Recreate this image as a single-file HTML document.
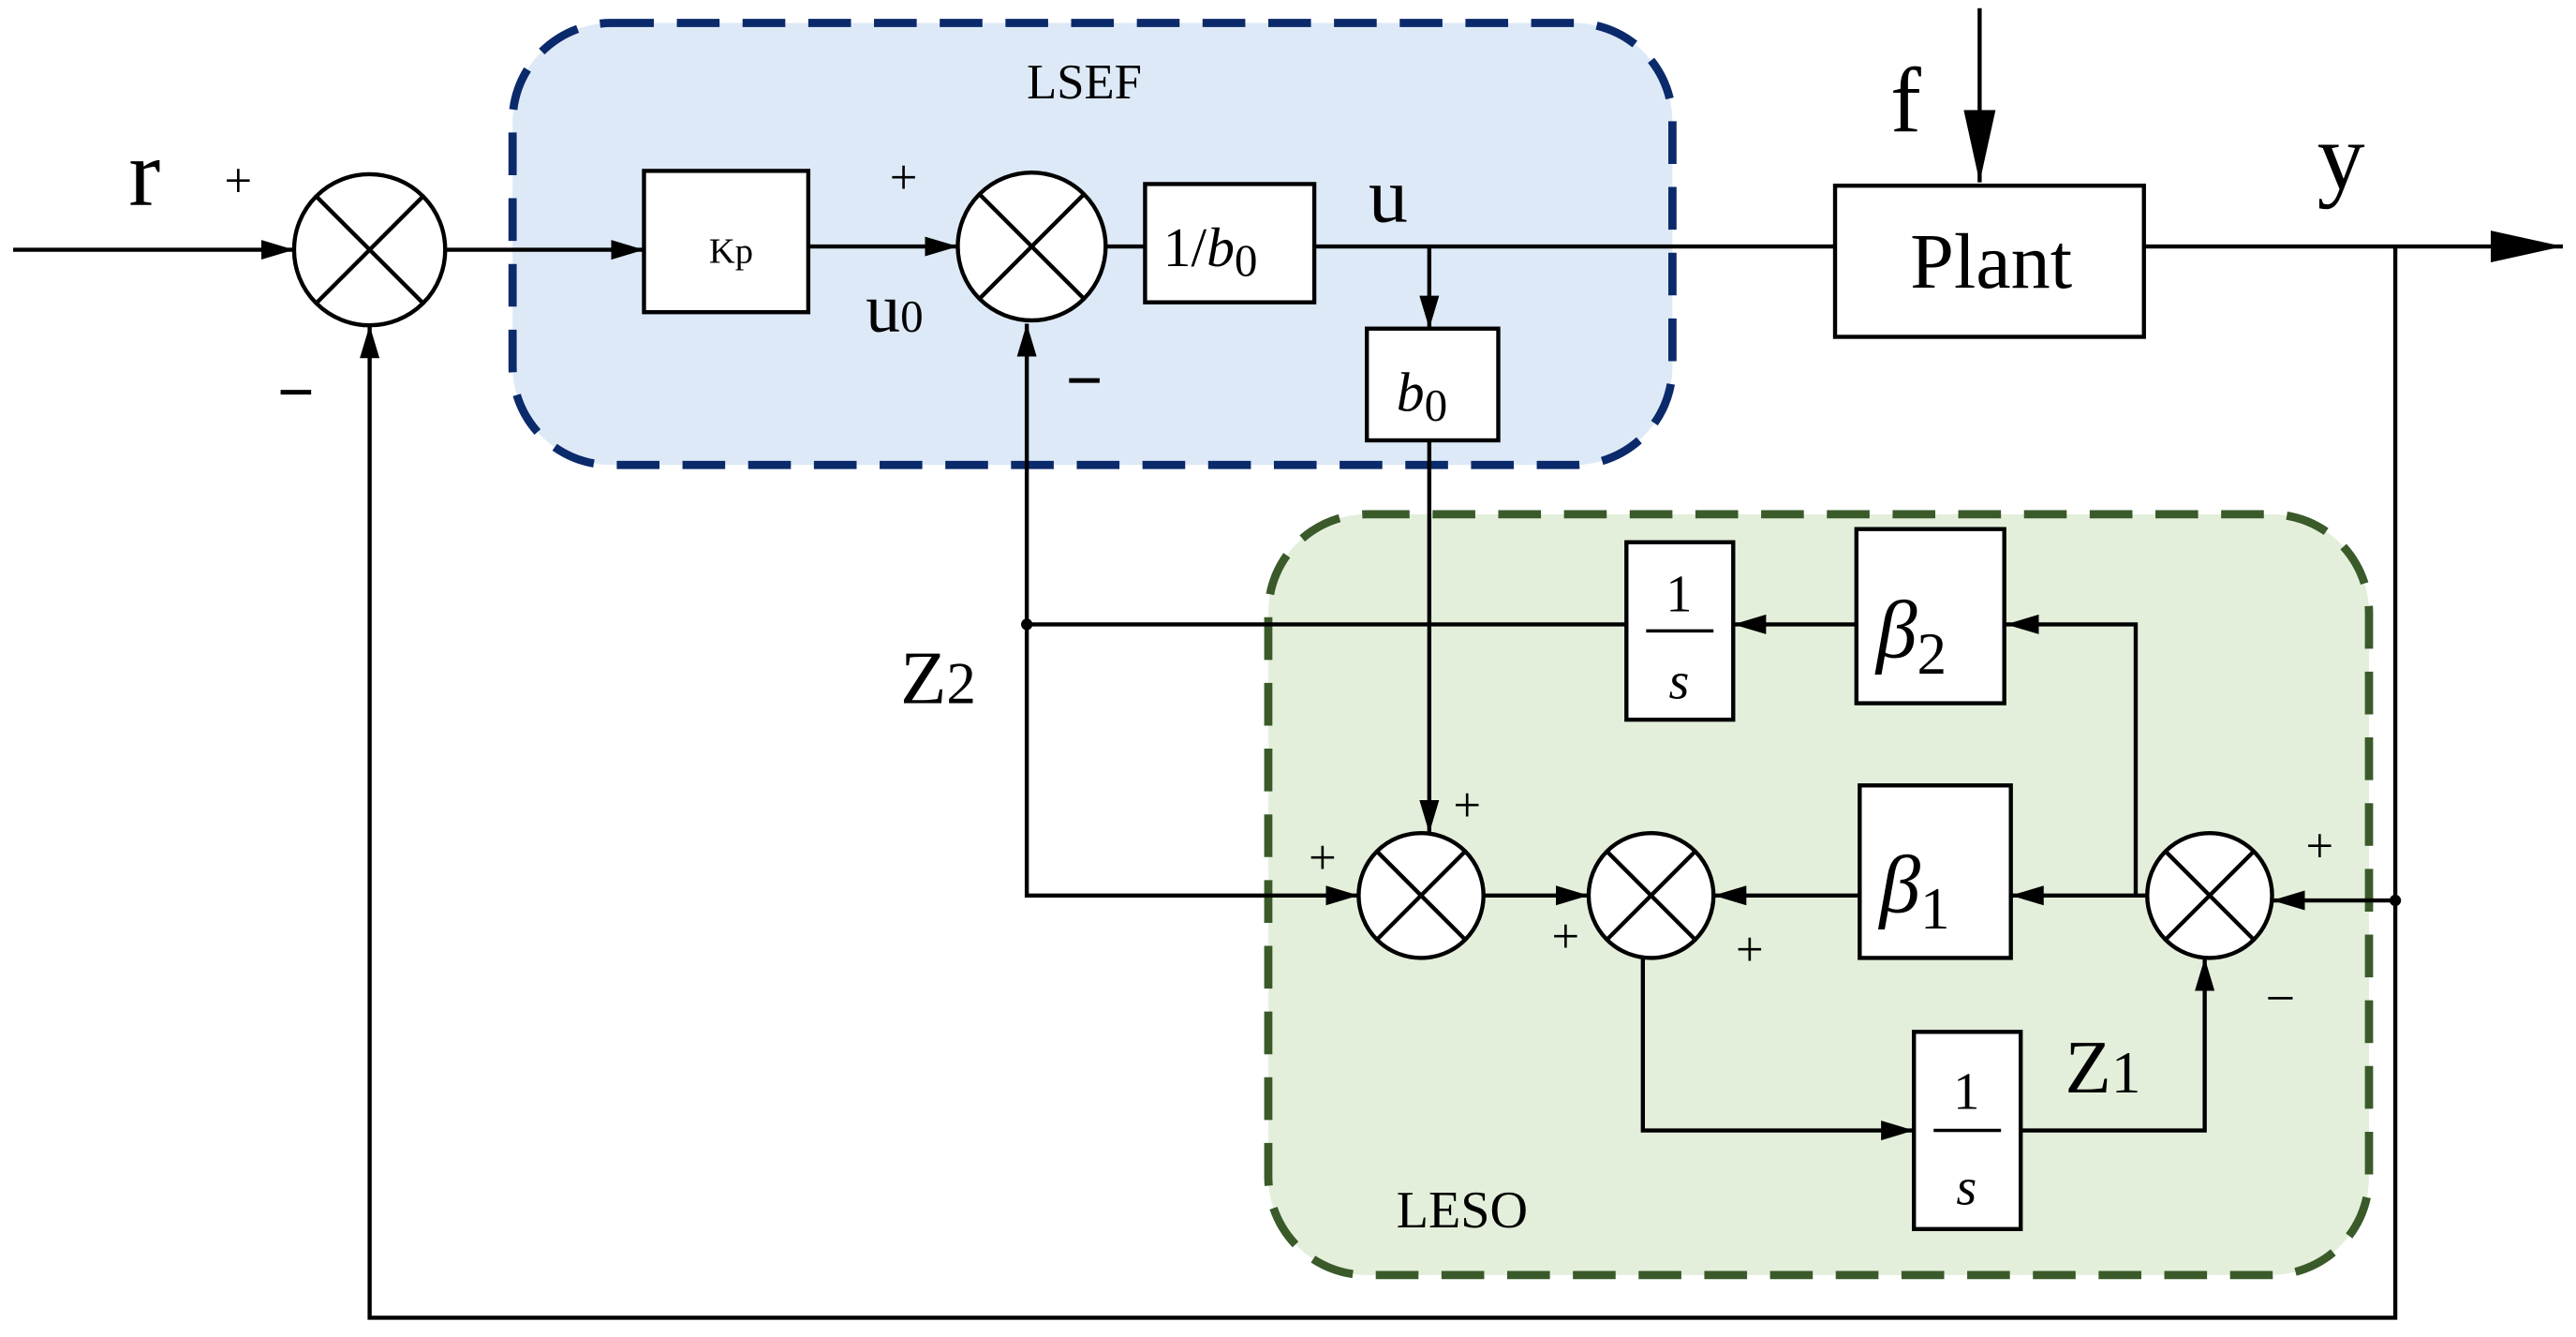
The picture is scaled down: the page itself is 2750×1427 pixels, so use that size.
<!DOCTYPE html>
<html><head><meta charset="utf-8"><style>
html,body{margin:0;padding:0;background:#fff;}
svg{display:block;}
svg text{font-family:"Liberation Serif","Times New Roman",serif;fill:#000;}
</style></head><body>
<svg width="2750" height="1427" viewBox="0 0 1568 813.7" preserveAspectRatio="none" xmlns="http://www.w3.org/2000/svg" font-family="Liberation Serif, serif">
<defs>
<marker id="A" viewBox="0 0 10 10" refX="10" refY="5" markerWidth="20" markerHeight="20" markerUnits="userSpaceOnUse" orient="auto"><path d="M0,2 L10,5 L0,8 z" fill="#000"/></marker>
<marker id="B" viewBox="0 0 10 10" refX="10" refY="5" markerWidth="44" markerHeight="44" markerUnits="userSpaceOnUse" orient="auto"><path d="M0,2.8 L10,5 L0,7.2 z" fill="#000"/></marker>
</defs>
<rect x="312" y="14" width="706" height="269" rx="60" fill="#dde9f6" stroke="#0b2a6b" stroke-width="5" stroke-dasharray="26 14"/>
<rect x="772" y="313" width="670" height="463" rx="60" fill="#e3efda" stroke="#3a5a2a" stroke-width="5" stroke-dasharray="26 14"/>
<text x="660" y="60" font-size="30" text-anchor="middle">LSEF</text>
<text x="890" y="747" font-size="32" text-anchor="middle">LESO</text>

<g stroke="#000" stroke-width="2.5" fill="none">
<line x1="8" y1="152" x2="179" y2="152" marker-end="url(#A)"/>
<line x1="271" y1="152" x2="392" y2="152" marker-end="url(#A)"/>
<line x1="492" y1="150" x2="583" y2="150" marker-end="url(#A)"/>
<line x1="673" y1="150" x2="697" y2="150"/>
<line x1="800" y1="150" x2="1117" y2="150"/>
<line x1="1305" y1="150" x2="1560" y2="150" marker-end="url(#B)"/>
<line x1="1205" y1="5" x2="1205" y2="111" marker-end="url(#B)"/>
<polyline points="1458,150 1458,802 225,802 225,198" marker-end="url(#A)"/>
<line x1="870" y1="150" x2="870" y2="200" marker-end="url(#A)"/>
<line x1="870" y1="268" x2="870" y2="507" marker-end="url(#A)"/>
<line x1="1458" y1="548" x2="1383" y2="548" marker-end="url(#A)"/>
<line x1="1307" y1="545" x2="1224" y2="545" marker-end="url(#A)"/>
<line x1="1132" y1="545" x2="1043" y2="545" marker-end="url(#A)"/>
<polyline points="1300,545 1300,380 1221,380" marker-end="url(#A)"/>
<line x1="1130" y1="380" x2="1055" y2="380" marker-end="url(#A)"/>
<line x1="990" y1="380" x2="625" y2="380"/>
<line x1="625" y1="380" x2="625" y2="197" marker-end="url(#A)"/>
<polyline points="625,380 625,545 827,545" marker-end="url(#A)"/>
<line x1="903" y1="545" x2="967" y2="545" marker-end="url(#A)"/>
<polyline points="1000,583 1000,688 1165,688" marker-end="url(#A)"/>
<polyline points="1230,688 1342,688 1342,583" marker-end="url(#A)"/>
</g>
<circle cx="625" cy="380" r="3.5"/>
<circle cx="1458" cy="548" r="3.5"/>

<g stroke="#000" stroke-width="2.5" fill="#fff">
<circle cx="225" cy="152" r="46"/><path d="M192.5,119.5 L257.5,184.5 M257.5,119.5 L192.5,184.5"/>
<circle cx="628" cy="150" r="45"/><path d="M596,118 L660,182 M660,118 L596,182"/>
<circle cx="865" cy="545" r="38"/><path d="M838,518 L892,572 M892,518 L838,572"/>
<circle cx="1005" cy="545" r="38"/><path d="M978,518 L1032,572 M1032,518 L978,572"/>
<circle cx="1345" cy="545" r="38"/><path d="M1318,518 L1372,572 M1372,518 L1318,572"/>
<rect x="392" y="104" width="100" height="86"/>
<rect x="697" y="112" width="103" height="72"/>
<rect x="1117" y="113" width="188" height="92"/>
<rect x="832" y="200" width="80" height="68"/>
<rect x="1130" y="322" width="90" height="106"/>
<rect x="990" y="330" width="65" height="108"/>
<rect x="1132" y="478" width="92" height="105"/>
<rect x="1165" y="628" width="65" height="120"/>
</g>
<line x1="1002" y1="384" x2="1043" y2="384" stroke="#000" stroke-width="2"/>
<line x1="1177" y1="688" x2="1218" y2="688" stroke="#000" stroke-width="2"/>

<text x="88" y="125" font-size="58" text-anchor="middle">r</text>
<text x="145" y="120" font-size="30" text-anchor="middle">+</text>
<text x="180" y="252" font-size="40" font-weight="bold" text-anchor="middle">−</text>
<text x="445" y="160" font-size="22" text-anchor="middle">Kp</text>
<text x="550" y="118" font-size="30" text-anchor="middle">+</text>
<text x="527" y="202" font-size="42">u<tspan font-size="28">0</tspan></text>
<text x="660" y="245" font-size="40" font-weight="bold" text-anchor="middle">−</text>
<text x="708" y="162" font-size="34">1/<tspan font-style="italic">b</tspan><tspan font-size="28" dy="6">0</tspan></text>
<text x="845" y="135" font-size="48" text-anchor="middle">u</text>
<text x="1212" y="175" font-size="48" text-anchor="middle" font-family="Liberation Serif, serif">Plant</text>
<text x="1160" y="80" font-size="56" text-anchor="middle">f</text>
<text x="1425" y="115" font-size="58" text-anchor="middle">y</text>
<text x="850" y="250" font-size="34"><tspan font-style="italic">b</tspan><tspan font-size="28" dy="6">0</tspan></text>
<text x="1142" y="400" font-size="50" font-style="italic">β<tspan font-style="normal" font-size="36" dy="10">2</tspan></text>
<text x="1144" y="555" font-size="50" font-style="italic">β<tspan font-style="normal" font-size="36" dy="10">1</tspan></text>
<text x="1022" y="372" font-size="32" text-anchor="middle">1</text>
<text x="1022" y="425" font-size="32" font-style="italic" text-anchor="middle">s</text>
<text x="1197" y="675" font-size="32" text-anchor="middle">1</text>
<text x="1197" y="733" font-size="32" font-style="italic" text-anchor="middle">s</text>
<text x="548" y="428" font-size="46">Z<tspan font-size="36">2</tspan></text>
<text x="1257" y="665" font-size="46">Z<tspan font-size="36">1</tspan></text>
<text x="893" y="500" font-size="30" text-anchor="middle">+</text>
<text x="805" y="532" font-size="30" text-anchor="middle">+</text>
<text x="953" y="580" font-size="30" text-anchor="middle">+</text>
<text x="1065" y="588" font-size="30" text-anchor="middle">+</text>
<text x="1412" y="525" font-size="30" text-anchor="middle">+</text>
<text x="1388" y="618" font-size="32" text-anchor="middle">−</text>
</svg>
</body></html>
